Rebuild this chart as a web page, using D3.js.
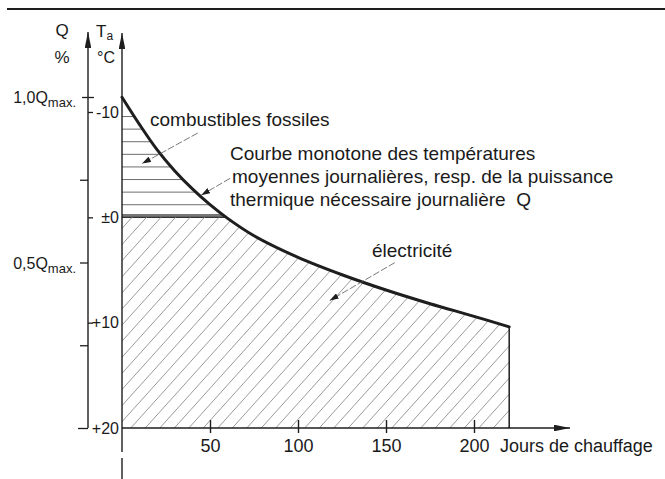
<!DOCTYPE html>
<html>
<head>
<meta charset="utf-8">
<script src="https://cdn.jsdelivr.net/npm/d3@7"></script>
<style>
  body { margin: 0; background: #fff; }
  text { font-family: "Liberation Sans", Arial, sans-serif; fill: #1a1a1a; }
</style>
</head>
<body>
<div id="chart"></div>
<script>
// monotone curve of daily mean temperatures (heating days -> Ta in °C)
const days  = [0, 10, 20, 30, 40, 50, 60, 75, 100, 125, 150, 175, 200, 220];
const temps = [-11.4, -8.8, -6.4, -4.4, -2.7, -1.2, 0.1, 1.75, 3.8, 5.45, 6.9, 8.2, 9.4, 10.4];

const xTicks = [50, 100, 150, 200];
const tTicks = [-10, 0, 10, 20];
const tLabels = ["-10", "±0", "+10", "+20"];
const qTicks = [0, 0.25, 0.5, 0.75, 1];
const qLabelValues = [1, 0.5];
const qLabelText = ["1,0Q", "0,5Q"];

// leader arrows, in data coords [day, Ta]
const leaderFrom = [[43, -8.0], [61.4, -3.7], [155, 4.3]];
const leaderTo   = [[11.4, -5.1], [45, -2.1], [118, 7.9]];

const width = 665, height = 479;
const ink = "#1e1e1e";

const svg = d3.select("#chart").append("svg")
    .attr("width", width)
    .attr("height", height);

const x  = d3.scaleLinear().domain([0, 250]).range([122, 562]);
const yT = d3.scaleLinear().domain([-10, 20]).range([112, 428]);
const yQ = d3.scaleLinear().domain([0, 1]).range([428, 97]);

const xQ = 88;
const x0 = x(0);
const yBase = yT(20);
const pts = days.map((d, i) => ({ d: d, t: temps[i] }));
const last = pts[pts.length - 1];

const defs = svg.append("defs");
function marker(id, len, half) {
    defs.append("marker")
        .attr("id", id)
        .attr("viewBox", `0 ${-half} ${len} ${half * 2}`)
        .attr("refX", len).attr("refY", 0)
        .attr("markerWidth", len).attr("markerHeight", half * 2)
        .attr("markerUnits", "userSpaceOnUse")
        .attr("orient", "auto")
        .append("path")
        .attr("d", `M0,${-half}L${len},0L0,${half}Z`)
        .attr("fill", ink);
}
marker("axArrow", 16, 3.3);
marker("smallArrow", 9, 3);

const curve = d3.curveCatmullRom.alpha(0.5);
const line = d3.line().x(p => x(p.d)).y(p => yT(p.t)).curve(curve);
const under = d3.area().x(p => x(p.d)).y0(yBase).y1(p => yT(p.t)).curve(curve);

defs.append("clipPath").attr("id", "under")
    .append("path").attr("d", under(pts));
defs.append("clipPath").attr("id", "below0")
    .append("rect")
    .attr("x", x0).attr("y", yT(0))
    .attr("width", x(last.d) - x0).attr("height", yBase - yT(0));

// top rule
svg.append("line")
    .attr("x1", 7).attr("x2", width).attr("y1", 9).attr("y2", 9)
    .attr("stroke", ink).attr("stroke-width", 2);

// fossil fuels: horizontal hatching
const fossil = svg.append("g").attr("clip-path", "url(#under)");
fossil.selectAll("line.h")
    .data(d3.range(1, 9).map(k => yT(0) - k * 12.6))
    .enter().append("line")
    .attr("x1", x0).attr("x2", x(last.d))
    .attr("y1", d => d).attr("y2", d => d)
    .attr("stroke", "#6e6e6e").attr("stroke-width", 1);

// ±0 separating line (double)
fossil.append("line")
    .attr("x1", x0).attr("x2", x(last.d))
    .attr("y1", yT(0) - 1.6).attr("y2", yT(0) - 1.6)
    .attr("stroke", "#777").attr("stroke-width", 3.4);
fossil.append("line")
    .attr("x1", x0).attr("x2", x(last.d))
    .attr("y1", yT(0)).attr("y2", yT(0))
    .attr("stroke", "#333").attr("stroke-width", 1.2);

// electricity: diagonal hatching
const rise = yBase - yT(0) + 10;
const run = rise / Math.tan(48 * Math.PI / 180);
const elec = svg.append("g").attr("clip-path", "url(#under)")
    .append("g").attr("clip-path", "url(#below0)");
elec.selectAll("line.d")
    .data(d3.range(x0 - run - 10, x(last.d) + 15, 14.5))
    .enter().append("line")
    .attr("x1", d => d).attr("y1", yBase)
    .attr("x2", d => d + run).attr("y2", yBase - rise)
    .attr("stroke", "#8e8e8e").attr("stroke-width", 0.9);

// the curve
svg.append("path")
    .datum(pts)
    .attr("d", line)
    .attr("fill", "none")
    .attr("stroke", ink)
    .attr("stroke-width", 3)
    .attr("stroke-linecap", "round");

svg.append("line")
    .attr("x1", x(last.d)).attr("x2", x(last.d))
    .attr("y1", yT(last.t)).attr("y2", yBase)
    .attr("stroke", ink).attr("stroke-width", 1.5);

// axes lines with arrows
svg.append("line")
    .attr("x1", xQ).attr("x2", xQ).attr("y1", yBase).attr("y2", 32)
    .attr("stroke", ink).attr("stroke-width", 1.4)
    .attr("marker-end", "url(#axArrow)");
svg.append("line")
    .attr("x1", x0).attr("x2", x0).attr("y1", 452).attr("y2", 33)
    .attr("stroke", ink).attr("stroke-width", 1.4)
    .attr("marker-end", "url(#axArrow)");
svg.append("line")
    .attr("x1", x0).attr("x2", x0).attr("y1", 458).attr("y2", height)
    .attr("stroke", ink).attr("stroke-width", 1.4);
svg.append("line")
    .attr("x1", x0).attr("x2", 570).attr("y1", yBase).attr("y2", yBase)
    .attr("stroke", ink).attr("stroke-width", 1.6)
    .attr("marker-end", "url(#axArrow)");

// x axis ticks
const gx = svg.append("g")
    .attr("transform", `translate(0,${yBase})`)
    .call(d3.axisBottom(x).tickValues(xTicks).tickSize(5).tickSizeOuter(0));
gx.select(".domain").remove();
gx.attr("font-family", null).attr("font-size", 18);
gx.selectAll(".tick line").attr("y1", -8).attr("y2", 5)
    .attr("stroke", ink).attr("stroke-width", 1.4);
gx.selectAll(".tick text").attr("y", 11).attr("fill", ink);

svg.append("text")
    .attr("x", 500).attr("y", yBase + 24)
    .attr("font-size", 18)
    .text("Jours de chauffage");

// Q axis ticks
const gq = svg.append("g")
    .attr("transform", `translate(${xQ},0)`)
    .call(d3.axisLeft(yQ).tickValues(qTicks).tickSize(8).tickFormat(() => ""));
gq.select(".domain").remove();
gq.selectAll(".tick line")
    .attr("stroke", ink).attr("stroke-width", 1.3)
    .attr("x1", d => d === 1 ? 6 : 0)
    .attr("x2", d => d === 1 ? -6 : d === 0 ? -10 : -8);

qLabelValues.forEach((q, i) => {
    const t = svg.append("text")
        .attr("x", 76).attr("y", yQ(q) + 6)
        .attr("text-anchor", "end")
        .attr("font-size", 16);
    t.append("tspan").text(qLabelText[i]);
    t.append("tspan").attr("font-size", 13).attr("dy", 4).text("max.");
});

// Ta axis ticks (small marks to the right of the Q axis)
const gt = svg.append("g")
    .attr("transform", `translate(${xQ},0)`)
    .call(d3.axisRight(yT).tickValues(tTicks).tickSize(5)
        .tickFormat((d, i) => tLabels[i]));
gt.select(".domain").remove();
gt.attr("font-family", null).attr("font-size", 16);
gt.selectAll(".tick line")
    .attr("stroke", ink).attr("stroke-width", 1.3)
    .attr("x2", d => d === 20 ? 0 : 5);
gt.selectAll(".tick text")
    .attr("x", x0 - xQ - 3)
    .attr("text-anchor", "end")
    .attr("fill", ink);

// axis headers
svg.append("text").attr("x", 62).attr("y", 36)
    .attr("text-anchor", "middle").attr("font-size", 17).text("Q");
svg.append("text").attr("x", 62).attr("y", 63)
    .attr("text-anchor", "middle").attr("font-size", 17).text("%");
const ta = svg.append("text").attr("x", 96).attr("y", 37).attr("font-size", 17);
ta.append("tspan").text("T");
ta.append("tspan").attr("font-size", 12).attr("dy", 3).text("a");
svg.append("text").attr("x", 97).attr("y", 63)
    .attr("font-size", 16).text("°C");

// annotations
svg.append("text").attr("x", 150).attr("y", 126)
    .attr("font-size", 19).text("combustibles fossiles");

const curveNote = [
    "Courbe monotone des températures",
    "moyennes journalières, resp. de la puissance",
    "thermique nécessaire journalière  Q"
];
svg.append("g").selectAll("text")
    .data(curveNote)
    .enter().append("text")
    .attr("x", (d, i) => i === 1 ? 232 : 230)
    .attr("y", (d, i) => 160 + i * 23)
    .attr("font-size", 19)
    .style("white-space", "pre")
    .text(d => d);

svg.append("text").attr("x", 372).attr("y", 257)
    .attr("font-size", 19).text("électricité");

// leader arrows
svg.append("g").selectAll("line")
    .data(leaderFrom)
    .enter().append("line")
    .attr("x1", d => x(d[0])).attr("y1", d => yT(d[1]))
    .attr("x2", (d, i) => x(leaderTo[i][0]))
    .attr("y2", (d, i) => yT(leaderTo[i][1]))
    .attr("stroke", "#555").attr("stroke-width", 0.8)
    .attr("stroke-dasharray", "7,2")
    .attr("marker-end", "url(#smallArrow)");
</script>
</body>
</html>
